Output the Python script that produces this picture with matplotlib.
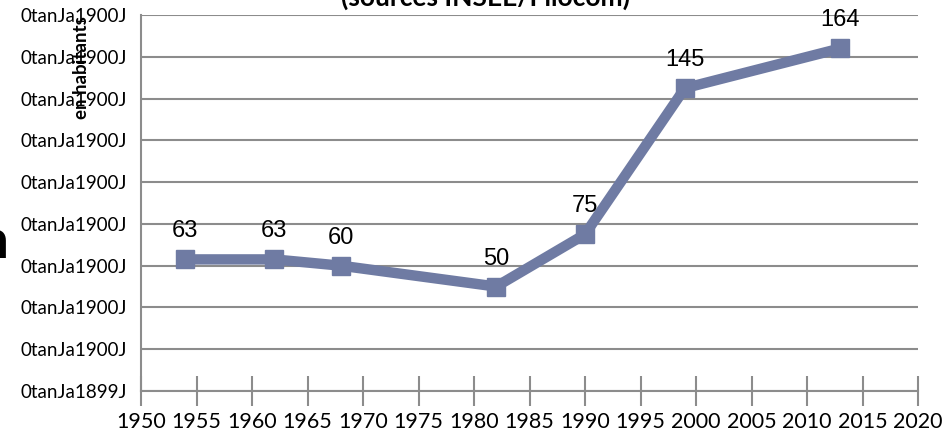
import matplotlib
matplotlib.use("Agg")
import matplotlib.pyplot as plt

annees = [1954, 1962, 1968, 1982, 1990, 1999, 2013]
valeurs = [63, 63, 60, 50, 75, 145, 164]
etiquettes = ["63", "63", "60", "50", "75", "145", "164"]

y_ticks = [0, 20, 40, 60, 80, 100, 120, 140, 160, 180]
y_labels = ["0tanJa1899J"] + ["0tanJa1900J"] * 9
x_ticks = list(range(1950, 2021, 5))

couleur = "#6f7ba3"
gris = "#8c8c8c"

fig = plt.figure(figsize=(9.47, 4.34), dpi=100)
ax = fig.add_axes([141/947, 1-391/434, (918-141)/947, (391-15)/434])

ax.plot(annees, valeurs, color=couleur, lw=7.5, marker="s", ms=13,
        solid_joinstyle="miter", zorder=3, clip_on=False)

for x, y, t in zip(annees, valeurs, etiquettes):
    ax.annotate(t, (x, y), xytext=(0, 28), textcoords="offset pixels",
                ha="center", va="center", fontsize=17, family="Liberation Sans")

ax.set_xlim(1950, 2020)
ax.set_ylim(0, 180)
ax.set_xticks(x_ticks)
ax.set_xticklabels([str(v) for v in x_ticks], family="Lato", fontsize=15.5)
ax.set_yticks(y_ticks)
ax.set_yticklabels(y_labels, family="Lato", fontsize=13.5)

ax.grid(axis="y", color=gris, lw=1.5)
ax.set_axisbelow(True)
for s in ["top", "right"]:
    ax.spines[s].set_visible(False)
for s in ["left", "bottom"]:
    ax.spines[s].set_color(gris)
    ax.spines[s].set_linewidth(1.5)
ax.tick_params(axis="x", direction="inout", length=22, width=1.5, color=gris, pad=4)
ax.tick_params(axis="y", length=0, pad=10)

fig.text(485/947, 1+3/434, "(sources INSEE/Filocom)", ha="center", va="center",
         fontsize=19, fontweight="bold", family="Lato")
fig.text(81/947, 1-68/434, "en habitants", rotation=90, ha="center", va="center",
         fontsize=13.5, fontweight="bold", family="Lato")
fig.text(-21/947, 1-242/434, "n", ha="left", va="center", fontsize=38,
         fontweight="bold", family="Lato")

fig.savefig("out.png", dpi=100)
